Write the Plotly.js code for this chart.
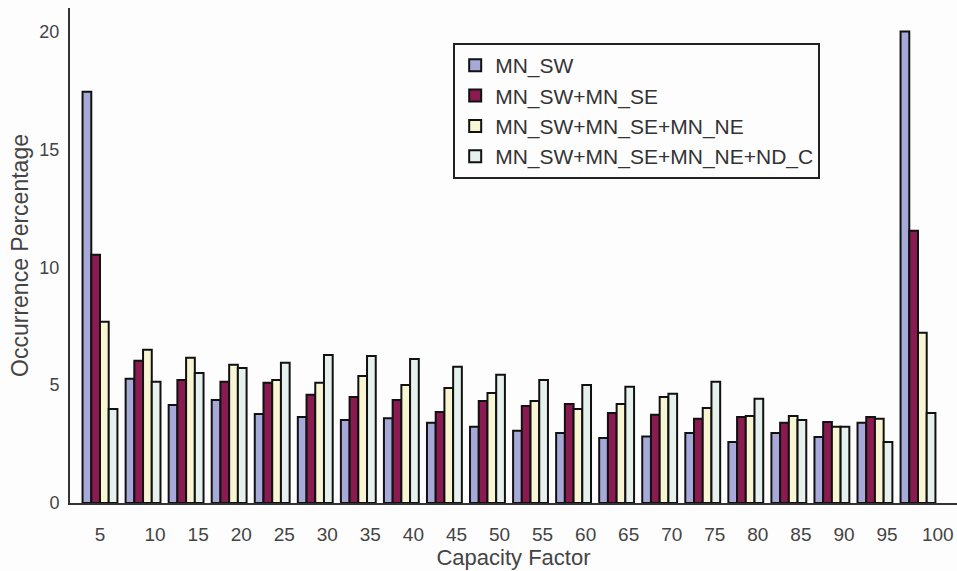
<!DOCTYPE html>
<html>
<head>
<meta charset="utf-8">
<script src="https://cdn.plot.ly/plotly-3.0.1.min.js"></script>
<style>html,body{margin:0;padding:0;background:#fdfdfd;}#chart{width:957px;height:571px;}</style>
</head>
<body>
<div id="chart"></div>
<script>
// Capacity factor categories
var categories = [5,10,15,20,25,30,35,40,45,50,55,60,65,70,75,80,85,90,95,100];
var tickLabels = ["5","10","15","20","25","30","35","40","45","50","55","60","65","70","75","80","85","90","95","100"];
var seriesNames = ["MN_SW","MN_SW+MN_SE","MN_SW+MN_SE+MN_NE","MN_SW+MN_SE+MN_NE+ND_C"];
var mnSW        = [17.45,5.27,4.16,4.37,3.78,3.65,3.52,3.60,3.40,3.23,3.06,2.97,2.76,2.82,2.97,2.59,2.97,2.80,3.40,20.0];
var mnSWSE      = [10.53,6.03,5.22,5.14,5.10,4.59,4.50,4.37,3.86,4.33,4.12,4.20,3.82,3.74,3.57,3.65,3.40,3.44,3.65,11.55];
var mnSWSENE    = [7.69,6.50,6.16,5.86,5.22,5.10,5.39,5.01,4.88,4.67,4.33,3.99,4.20,4.50,4.03,3.69,3.69,3.23,3.57,7.22];
var mnSWSENENDC = [3.99,5.14,5.52,5.73,5.95,6.28,6.24,6.11,5.78,5.44,5.22,5.01,4.93,4.63,5.14,4.42,3.52,3.23,2.59,3.82];

var seriesValues = [mnSW, mnSWSE, mnSWSENE, mnSWSENENDC];
var colors = ["#a7aad9", "#8a1b50", "#f8f6d2", "#e6f1ee"];

var traces = seriesValues.map(function(vals, i){
  return {
    type: "bar",
    name: seriesNames[i],
    x: categories,
    y: vals,
    marker: {color: colors[i], line: {color: "#111111", width: 2}},
    hoverinfo: "x+y+name"
  };
});

// tick label placement as in the original figure
var tickVals = categories.map(function(c, i){
  if (i === 0) return c;
  if (i === categories.length - 1) return c + 2.3;
  return c + 1.4;
});

var layout = {
  width: 957, height: 571,
  margin: {l: 70, r: 0, t: 8, b: 68},
  paper_bgcolor: "#fdfdfd",
  plot_bgcolor: "#fdfdfd",
  barmode: "group",
  bargap: 0.19,
  bargroupgap: 0,
  showlegend: true,
  legend: {
    x: 0.432, y: 0.929, xanchor: "left", yanchor: "top",
    bgcolor: "#fdfdfd", bordercolor: "#222222", borderwidth: 2,
    font: {family: "Liberation Sans, Arial, sans-serif", size: 21, color: "#333333"},
    tracegroupgap: 0
  },
  xaxis: {
    type: "linear",
    range: [1.516, 104.53],
    tickmode: "array",
    tickvals: tickVals,
    ticktext: tickLabels,
    ticks: "",
    ticklabelstandoff: 13,
    showgrid: false, zeroline: false,
    showline: true, linecolor: "#333333", linewidth: 2,
    tickfont: {family: "Liberation Sans Narrow, Arial Narrow, sans-serif", size: 19, color: "#444444"},
    title: {text: "Capacity Factor", font: {family: "Liberation Sans, Arial, sans-serif", size: 22, color: "#444444"}, standoff: 2}
  },
  yaxis: {
    range: [0, 21],
    tickvals: [0,5,10,15,20],
    ticktext: ["0","5","10","15","20"],
    ticks: "",
    ticklabelstandoff: 5,
    showgrid: false, zeroline: false,
    showline: true, linecolor: "#333333", linewidth: 2,
    tickfont: {family: "Liberation Sans, Arial, sans-serif", size: 18, color: "#444444"},
    title: {text: "Occurrence Percentage", font: {family: "Liberation Sans, Arial, sans-serif", size: 23, color: "#444444"}, standoff: 4}
  }
};

Plotly.newPlot("chart", traces, layout, {displayModeBar: false, responsive: false});
</script>
</body>
</html>
